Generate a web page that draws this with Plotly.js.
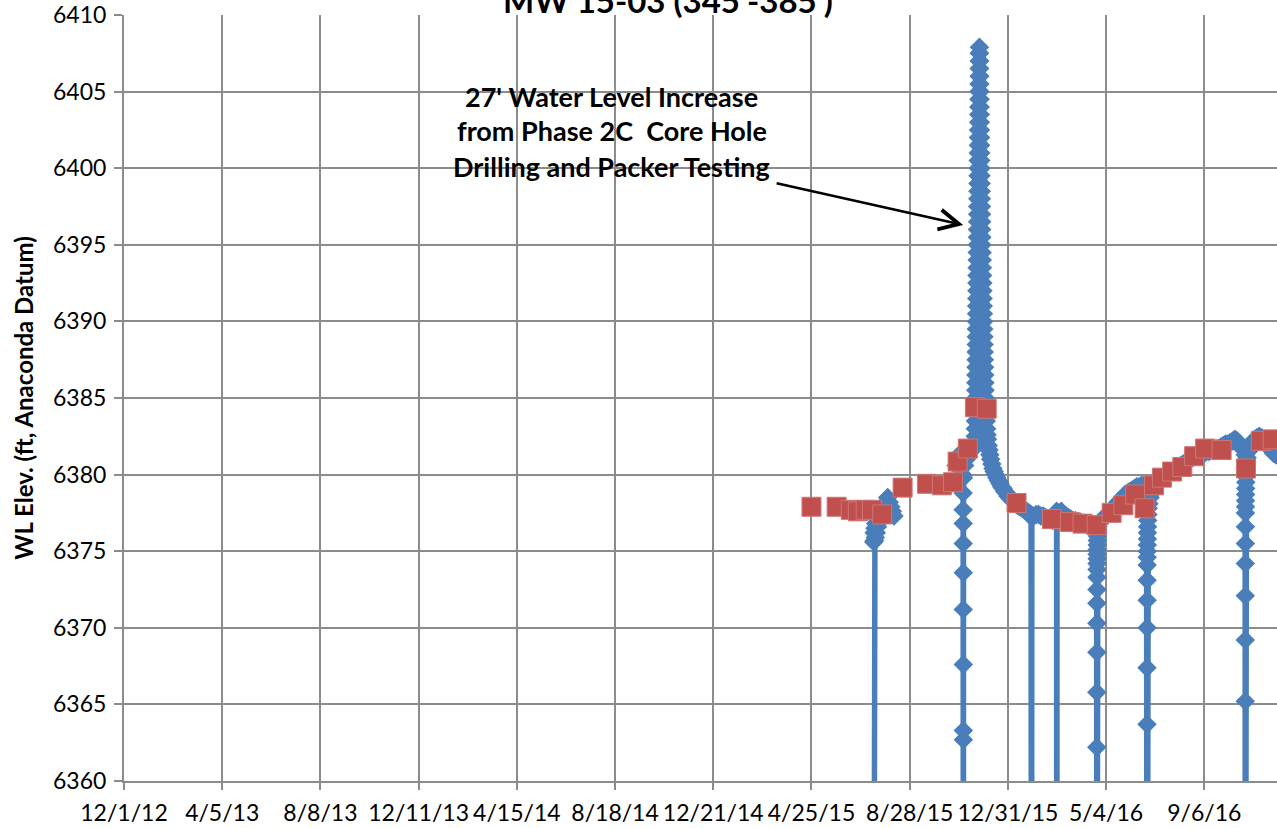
<!DOCTYPE html>
<html>
<head>
<meta charset="utf-8">
<script src="https://cdn.plot.ly/plotly-3.0.1.min.js"></script>
<style>html,body{margin:0;padding:0;background:#fff;}#chart{width:1277px;height:828px;}</style>
</head>
<body>
<div id="chart"></div>
<script>
// Transducer water-level record (blue diamonds); null marks a data gap
const transducerDates = [
"2015-07-13 00:00","2015-07-13 06:00","2015-07-13 18:00","2015-07-14 06:00","2015-07-14 18:00","2015-07-15 06:00","2015-07-15 18:00","2015-07-16 12:00","2015-07-17 06:00","2015-07-18 00:00","2015-07-19 00:00","2015-07-20 00:00","2015-07-21 12:00","2015-07-23 00:00","2015-07-25 00:00","2015-07-27 00:00","2015-07-29 00:00","2015-07-31 00:00","2015-08-02 00:00","2015-08-04 00:00","2015-08-06 00:00","2015-08-08 00:00","2015-08-09 00:00",
"2015-10-26 00:00","2015-10-28 00:00","2015-10-30 00:00","2015-11-01 00:00","2015-11-03 00:00",
"2015-11-04 00:00","2015-11-04 01:00","2015-11-04 02:00","2015-11-04 03:00","2015-11-04 04:00","2015-11-04 05:00","2015-11-04 06:00","2015-11-04 07:00","2015-11-04 08:00","2015-11-04 09:00","2015-11-04 12:00",
"2015-11-06 00:00","2015-11-08 00:00","2015-11-11 00:00","2015-11-14 00:00","2015-11-17 00:00",
"2015-11-19 08:00","2015-11-19 10:30","2015-11-19 13:00","2015-11-19 15:30","2015-11-19 18:00","2015-11-19 20:30","2015-11-19 23:00",
"2015-11-20 01:30","2015-11-20 04:00","2015-11-20 06:30","2015-11-20 09:00","2015-11-20 11:30","2015-11-20 14:00","2015-11-20 16:30","2015-11-20 19:00","2015-11-20 21:30",
"2015-11-21 00:00","2015-11-21 02:30","2015-11-21 05:00","2015-11-21 07:30","2015-11-21 10:00","2015-11-21 12:30","2015-11-21 15:00","2015-11-21 17:30","2015-11-21 20:00","2015-11-21 22:30",
"2015-11-22 01:00","2015-11-22 03:30","2015-11-22 06:00","2015-11-22 08:30","2015-11-22 11:00","2015-11-22 13:30","2015-11-22 16:00","2015-11-22 18:30","2015-11-22 21:00","2015-11-22 23:30",
"2015-11-23 02:00","2015-11-23 04:30","2015-11-23 07:00","2015-11-23 09:30","2015-11-23 12:00","2015-11-23 14:30","2015-11-23 17:00","2015-11-23 19:30","2015-11-23 22:00",
"2015-11-24 00:30","2015-11-24 03:00","2015-11-24 05:30","2015-11-24 08:00","2015-11-24 10:30","2015-11-24 13:00","2015-11-24 15:30","2015-11-24 18:00",
"2015-11-24 21:00","2015-11-25 00:00","2015-11-25 03:00","2015-11-25 06:00","2015-11-25 09:00","2015-11-25 12:00","2015-11-25 15:00","2015-11-25 18:00","2015-11-25 21:00",
"2015-11-26 00:00","2015-11-26 03:00","2015-11-26 06:00","2015-11-26 09:00","2015-11-26 12:00","2015-11-26 15:00","2015-11-26 18:00","2015-11-26 21:00",
"2015-11-27 00:00","2015-11-27 03:00","2015-11-27 06:00","2015-11-27 09:00","2015-11-27 12:00","2015-11-27 15:00","2015-11-27 18:00","2015-11-27 21:00",
"2015-11-28 00:00","2015-11-28 05:00","2015-11-28 10:00","2015-11-28 15:00","2015-11-28 20:00",
"2015-11-29 01:00","2015-11-29 06:00","2015-11-29 11:00","2015-11-29 16:00","2015-11-29 21:00",
"2015-11-30 02:00","2015-11-30 07:00","2015-11-30 12:00","2015-11-30 17:00","2015-11-30 22:00",
"2015-12-01 03:00","2015-12-01 08:00","2015-12-01 13:00","2015-12-01 18:00","2015-12-01 23:00","2015-12-02 04:00",
"2015-12-02 12:00","2015-12-03 00:00","2015-12-03 12:00","2015-12-04 00:00","2015-12-04 12:00","2015-12-05 00:00","2015-12-06 00:00","2015-12-07 00:00","2015-12-08 00:00","2015-12-09 00:00","2015-12-10 12:00","2015-12-12 00:00","2015-12-13 12:00","2015-12-15 00:00","2015-12-17 00:00","2015-12-19 00:00","2015-12-21 00:00","2015-12-23 00:00","2015-12-25 00:00","2015-12-27 00:00","2015-12-29 00:00","2015-12-31 00:00",
"2016-01-02","2016-01-04","2016-01-06","2016-01-08","2016-01-10","2016-01-12","2016-01-15","2016-01-18","2016-01-21","2016-01-24","2016-01-27","2016-01-29 12:00","2016-01-30 00:00","2016-01-30 12:00",
"2016-02-02","2016-02-05","2016-02-08","2016-02-11","2016-02-14","2016-02-17","2016-02-20","2016-02-23","2016-02-26","2016-02-29","2016-03-02 00:00","2016-03-02 06:00","2016-03-02 12:00",
"2016-03-05","2016-03-08","2016-03-11","2016-03-14","2016-03-17","2016-03-20","2016-03-23","2016-03-26","2016-03-29","2016-04-01","2016-04-04","2016-04-07","2016-04-10","2016-04-13","2016-04-16","2016-04-19",
"2016-04-22 00:00","2016-04-22 01:00","2016-04-22 02:00","2016-04-22 03:00","2016-04-22 04:00","2016-04-22 05:00","2016-04-22 06:00","2016-04-22 07:00","2016-04-22 08:00","2016-04-22 09:00","2016-04-22 10:00","2016-04-22 11:00","2016-04-22 12:00","2016-04-22 14:00","2016-04-22 16:00","2016-04-22 18:00","2016-04-22 21:00","2016-04-23 00:00","2016-04-23 06:00","2016-04-23 12:00",
"2016-04-25","2016-04-28","2016-05-01","2016-05-04","2016-05-07","2016-05-10","2016-05-13","2016-05-16","2016-05-19","2016-05-22","2016-05-25","2016-05-28","2016-05-31","2016-06-03","2016-06-06","2016-06-09","2016-06-12","2016-06-15","2016-06-18","2016-06-21","2016-06-24 12:00",
"2016-06-25 00:00","2016-06-25 01:00","2016-06-25 02:00","2016-06-25 03:00","2016-06-25 04:00","2016-06-25 05:00","2016-06-25 06:00","2016-06-25 07:00","2016-06-25 08:00","2016-06-25 10:00","2016-06-25 12:00","2016-06-25 15:00","2016-06-25 18:00","2016-06-26 00:00","2016-06-26 08:00","2016-06-26 16:00","2016-06-27 12:00",
"2016-06-29","2016-07-01","2016-07-03","2016-07-05","2016-07-08","2016-07-11","2016-07-14","2016-07-17","2016-07-20","2016-07-23","2016-07-26","2016-07-29","2016-08-01","2016-08-04","2016-08-07","2016-08-10","2016-08-13","2016-08-16","2016-08-19","2016-08-22","2016-08-25","2016-08-28","2016-08-31","2016-09-03","2016-09-06","2016-09-09","2016-09-12","2016-09-15","2016-09-18","2016-09-21","2016-09-24","2016-09-27","2016-09-30","2016-10-03","2016-10-06","2016-10-09","2016-10-12","2016-10-15","2016-10-18","2016-10-21","2016-10-24",
"2016-10-28 00:00","2016-10-28 01:00","2016-10-28 02:00","2016-10-28 03:00","2016-10-28 04:00","2016-10-28 05:00","2016-10-28 06:00","2016-10-28 07:00","2016-10-28 08:00","2016-10-28 09:00","2016-10-28 11:00","2016-10-28 13:00","2016-10-28 16:00","2016-10-28 19:00","2016-10-29 00:00","2016-10-29 08:00","2016-10-29 16:00","2016-10-30 12:00",
"2016-11-01","2016-11-03","2016-11-06","2016-11-09","2016-11-12","2016-11-15","2016-11-18","2016-11-21","2016-11-24","2016-11-27","2016-11-30","2016-12-03","2016-12-06","2016-12-09"
];
const transducerElev = [
6330,6375.6,6376.2,6375.7,6376.5,6375.9,6376.8,6376.2,6377.1,6376.6,6377.4,6376.9,6377.6,6377.3,6377.9,6377.7,6378.2,6378.5,6378.2,6377.9,6377.6,6377.3,null,
6380.6,6381.2,6381.0,6380.6,6380.0,
6378.8,6377.7,6376.8,6375.5,6373.6,6371.2,6367.6,6363.3,6362.7,6330,6379.8,
6380.6,6381.0,6381.2,6381.5,6381.8,
6382,6382.5,6383,6383.5,6384,6384.5,6385,
6385.5,6386,6386.5,6387,6387.5,6388,6388.5,6389,6389.5,
6390,6390.5,6391,6391.5,6392,6392.5,6393,6393.5,6394,6394.5,
6395,6395.5,6396,6396.5,6397,6397.5,6398,6398.5,6399,6399.5,
6400,6400.5,6401,6401.5,6402,6402.5,6403,6403.5,6404,
6404.5,6405,6405.5,6406,6406.5,6407,6407.5,6407.9,
6407.5,6407,6406.5,6406,6405.5,6405,6404.5,6404,6403.5,
6403,6402.5,6402,6401.5,6401,6400.5,6400,6399.5,
6399,6398.5,6398,6397.5,6397,6396.5,6396,6395.5,
6395,6394.5,6394,6393.5,6393,
6392.5,6392,6391.5,6391,6390.5,
6390,6389.5,6389,6388.5,6388,
6387.5,6387,6386.5,6386,6385.5,6385,
6384.5,6384.0,6383.5,6383.0,6382.6,6382.3,6381.9,6381.6,6381.3,6381.0,6380.7,6380.4,6380.2,6380.0,6379.8,6379.6,6379.4,6379.2,6379.1,6378.9,6378.8,6378.6,
6378.5,6378.4,6378.3,6378.2,6378.1,6378.0,6377.9,6377.8,6377.7,6377.6,6377.5,6377.4,6330,6377.2,
6377.3,6377.4,6377.4,6377.3,6377.3,6377.2,6377.1,6377.1,6377.0,6377.2,6377.6,6330,6377.4,
6377.5,6377.6,6377.4,6377.3,6377.2,6377.1,6377.0,6377.0,6376.9,6376.9,6376.8,6376.8,6376.7,6376.7,6376.6,6376.6,
6376.5,6330,6362.2,6365.8,6368.4,6370.3,6371.6,6372.5,6373.3,6373.8,6374.2,6374.5,6374.8,6375.1,6375.4,6375.7,6376.0,6376.2,6376.4,6376.6,
6376.8,6377.0,6377.2,6377.3,6377.5,6377.6,6377.8,6378.0,6378.2,6378.3,6378.5,6378.7,6378.8,6378.9,6379.0,6379.1,6379.2,6379.2,6379.3,6379.3,6379.2,
6330,6363.7,6367.4,6370.0,6371.8,6373.1,6374.1,6374.6,6375.0,6375.4,6375.8,6376.2,6376.6,6377.0,6377.4,6377.8,6378.1,
6378.5,6378.8,6379.1,6379.3,6379.5,6379.6,6379.8,6379.9,6380.0,6380.1,6380.2,6380.3,6380.4,6380.5,6380.6,6380.7,6380.8,6380.9,6381.0,6381.1,6381.2,6381.3,6381.3,6381.4,6381.4,6381.5,6381.5,6381.6,6381.6,6381.7,6381.7,6381.8,6381.9,6382.0,6382.0,6382.1,6382.2,6382.3,6382.2,6382.0,6381.7,
6381.3,6330,6365.2,6369.2,6372.1,6374.2,6375.5,6376.6,6377.5,6377.9,6378.3,6378.7,6379.1,6379.5,6379.9,6380.3,6380.7,6381.1,
6381.5,6381.8,6382.1,6382.3,6382.4,6382.5,6382.4,6382.2,6382.0,6381.8,6381.6,6381.4,6381.3,6381.2
];

// Manual water-level measurements (red squares)
const manualDates = [
"2015-04-25","2015-05-27","2015-06-14","2015-06-23","2015-07-03","2015-07-11","2015-07-24","2015-08-19","2015-09-19","2015-10-08","2015-10-22","2015-10-28","2015-11-10","2015-11-19","2015-12-04",
"2016-01-11","2016-02-25","2016-03-19","2016-04-04","2016-04-22","2016-05-11","2016-05-26","2016-06-10","2016-06-22","2016-07-04","2016-07-14","2016-07-27","2016-08-09","2016-08-24","2016-09-07","2016-09-28","2016-10-29","2016-11-17","2016-12-02"
];
const manualElev = [
6377.9,6377.9,6377.7,6377.6,6377.7,6377.7,6377.4,6379.15,6379.4,6379.3,6379.5,6380.85,6381.7,6384.4,6384.3,
6378.15,6377.1,6376.9,6376.8,6376.7,6377.5,6378.0,6378.7,6377.8,6379.3,6379.8,6380.2,6380.5,6381.2,6381.7,6381.6,6380.4,6382.2,6382.3
];

// Axis ticks
const xTickDates = ["2012-12-01","2013-04-05","2013-08-08","2013-12-11","2014-04-15","2014-08-18","2014-12-21","2015-04-25","2015-08-28","2015-12-31","2016-05-04","2016-09-06"];
const xTickLabels = ["12/1/12","4/5/13","8/8/13","12/11/13","4/15/14","8/18/14","12/21/14","4/25/15","8/28/15","12/31/15","5/4/16","9/6/16"];

const chartTitle = "MW 15-03 (345'-385')";
const yTitle = "WL Elev. (ft, Anaconda Datum)";
const noteLines = ["27' Water Level Increase", "from Phase 2C  Core Hole", "Drilling and Packer Testing"];

const FONT = 'Lato, "Open Sans", "DejaVu Sans", sans-serif';
const GRID = '#8c8c8c';

const traces = [
  {
    x: transducerDates, y: transducerElev, type: 'scatter', mode: 'lines+markers',
    line: {color: '#4A7EBB', width: 5.5},
    marker: {symbol: 'diamond', size: 15, color: '#4A7EBB'},
    connectgaps: false, hoverinfo: 'x+y'
  },
  {
    x: manualDates, y: manualElev, type: 'scatter', mode: 'markers',
    marker: {symbol: 'square', size: 19, color: '#C0504D', line: {color: '#CF7674', width: 1}},
    hoverinfo: 'x+y'
  }
];

const noteY = [6404.65, 6402.45, 6400.1];
const annotations = noteLines.map((t, i) => ({
  text: '<b>' + t + '</b>', x: '2014-08-14', y: noteY[i], xref: 'x', yref: 'y',
  showarrow: false, xanchor: 'center', yanchor: 'middle',
  font: {family: FONT, size: 27, color: '#000'}
}));
annotations.push({
  x: '2015-11-04', y: 6396.3, xref: 'x', yref: 'y', text: '',
  showarrow: true, ax: -188, ay: -42, arrowhead: 5, arrowsize: 1.5, arrowwidth: 2.6, arrowcolor: '#000'
});

const layout = {
  width: 1277, height: 828,
  margin: {l: 124, r: 0, t: 15, b: 47, pad: 0},
  paper_bgcolor: '#fff', plot_bgcolor: '#fff',
  showlegend: false,
  font: {family: FONT, color: '#000'},
  title: {
    text: '<b>' + chartTitle + '</b>', font: {family: FONT, size: 33, color: '#000'},
    x: 0.523, xref: 'container', xanchor: 'center', y: 0.998, yref: 'container', yanchor: 'middle'
  },
  xaxis: {
    type: 'date', range: ['2012-12-01', '2016-12-07 12:00'],
    tickmode: 'array', tickvals: xTickDates, ticktext: xTickLabels,
    showgrid: true, gridcolor: GRID, gridwidth: 2,
    showline: true, linecolor: GRID, linewidth: 2,
    ticks: 'outside', ticklen: 7, tickwidth: 2, tickcolor: GRID,
    tickfont: {family: FONT, size: 23, color: '#000'},
    ticklabelstandoff: 3, zeroline: false
  },
  yaxis: {
    range: [6360, 6410], tick0: 6360, dtick: 5,
    showgrid: true, gridcolor: GRID, gridwidth: 2,
    showline: true, linecolor: GRID, linewidth: 2,
    ticks: 'outside', ticklen: 8, tickwidth: 2, tickcolor: GRID,
    tickfont: {family: FONT, size: 23, color: '#000'},
    ticklabelstandoff: 3,
    zeroline: false,
    title: {text: '<b>' + yTitle + '</b>', font: {family: FONT, size: 24, color: '#000'}, standoff: 13}
  },
  annotations: annotations
};

Plotly.newPlot('chart', traces, layout, {displayModeBar: false, staticPlot: true});
</script>
</body>
</html>
